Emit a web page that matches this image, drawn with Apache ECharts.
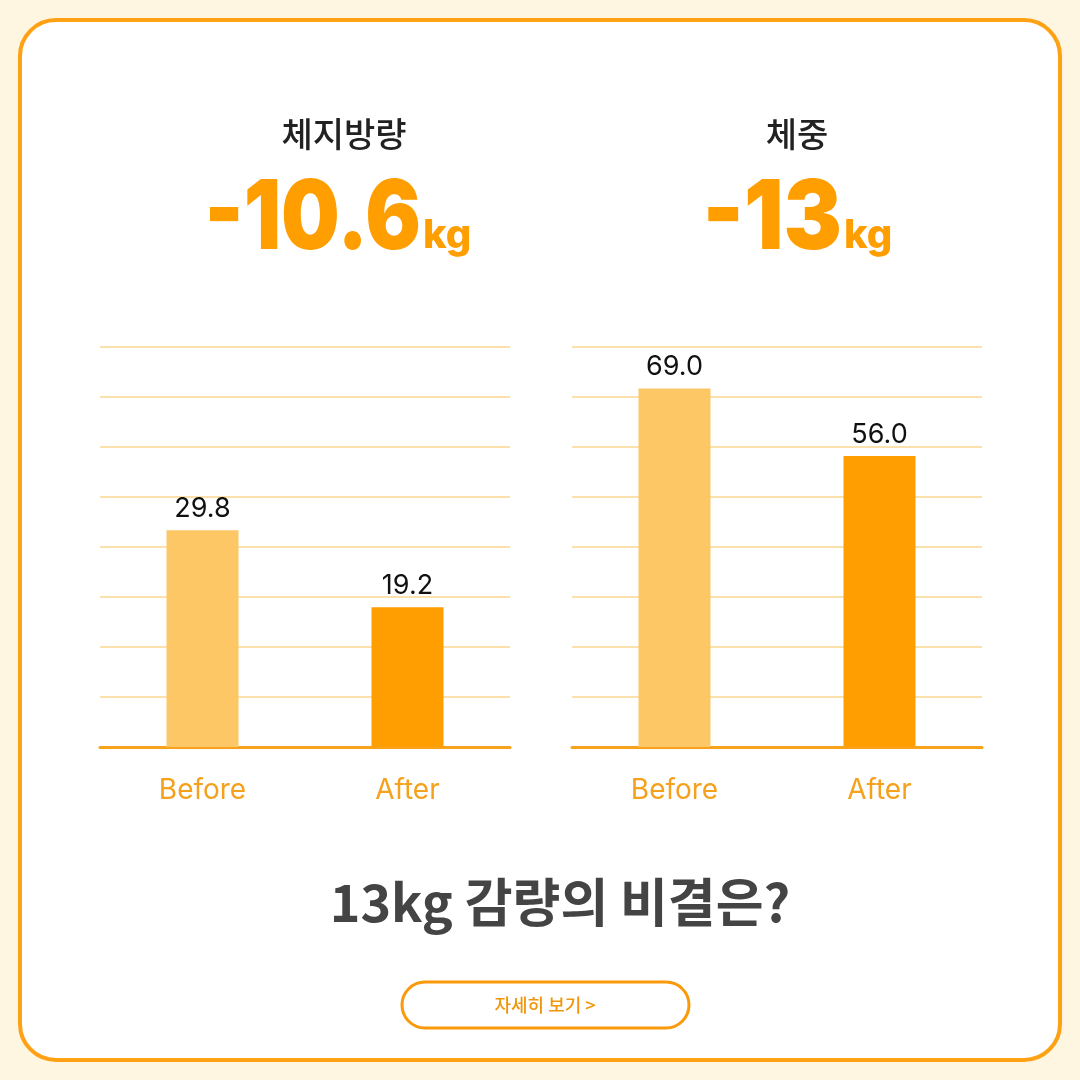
<!DOCTYPE html>
<html><head><meta charset="utf-8">
<script src="https://cdn.jsdelivr.net/npm/echarts@6/dist/echarts.min.js"></script>
<style>html,body{margin:0;padding:0;background:#FFF6E1;}#c{width:1080px;height:1080px;}</style>
</head><body><div id="c"></div>
<script>
const categories = ['Before', 'After'];
const fatValues = [29.8, 19.2];
const weightValues = [69.0, 56.0];
const fatTitle = '체지방량';
const fatDelta = '-10.6';
const weightTitle = '체중';
const weightDelta = '-13';
const unit = 'kg';
const headline = '13kg 감량의 비결은?';
const buttonText = '자세히 보기 >';

const ORANGE = '#FF9E00';
const LIGHT = '#FDC766';
const GRID = '#FDD791';
const FONT = 'Inter, "Noto Sans CJK KR", sans-serif';
const KFONT = '"Noto Sans CJK KR", sans-serif';

const chart = echarts.init(document.getElementById('c'), null, {renderer: 'canvas'});

function xAx(gi) {
  return {
    type: 'category', gridIndex: gi, data: categories,
    axisLine: {lineStyle: {color: '#F8A21C', width: 3}},
    axisTick: {show: false},
    axisLabel: {color: '#F5A11C', fontSize: 28, fontFamily: FONT, margin: 30}
  };
}
function yAx(gi, max, interval) {
  return {
    type: 'value', gridIndex: gi, min: 0, max: max, interval: interval,
    axisLine: {show: false}, axisTick: {show: false}, axisLabel: {show: false},
    splitLine: {lineStyle: {color: GRID, width: 1.5}}
  };
}
function ser(gi, vals) {
  return {
    type: 'bar', xAxisIndex: gi, yAxisIndex: gi, barWidth: 72,
    data: vals.map((v, i) => ({value: v, itemStyle: {color: i === 0 ? LIGHT : ORANGE}})),
    label: {show: true, position: 'top', distance: 8, color: '#111', fontSize: 27, fontFamily: FONT,
      formatter: p => p.value.toFixed(1)}
  };
}

chart.setOption({
  animation: false,
  grid: [
    {left: 100, width: 410, top: 347, height: 400},
    {left: 572, width: 410, top: 347, height: 400}
  ],
  xAxis: [xAx(0), xAx(1)],
  yAxis: [yAx(0, 55, 6.875), yAx(1, 77, 9.625)],
  series: [ser(0, fatValues), ser(1, weightValues)],
  graphic: [
    {type: 'rect', z: -10, shape: {x: 20, y: 20, width: 1040, height: 1040, r: 36},
      style: {fill: '#fff', stroke: '#FFA115', lineWidth: 4}},
    {type: 'text', x: 344, y: 134, style: {text: fatTitle, font: '500 34px ' + KFONT, fill: '#222', align: 'center', verticalAlign: 'middle'}},
    {type: 'text', x: 797, y: 134, style: {text: weightTitle, font: '500 34px ' + KFONT, fill: '#222', align: 'center', verticalAlign: 'middle'}},
    {type: 'text', x: 421, y: 268, scaleX: 0.86, style: {text: fatDelta, font: '900 96px ' + FONT, fill: ORANGE, align: 'right', verticalAlign: 'bottom'}},
    {type: 'text', x: 423, y: 256, style: {text: unit, font: '800 40px ' + FONT, fill: ORANGE, align: 'left', verticalAlign: 'bottom'}},
    {type: 'text', x: 842, y: 268, scaleX: 0.91, style: {text: weightDelta, font: '900 96px ' + FONT, fill: ORANGE, align: 'right', verticalAlign: 'bottom'}},
    {type: 'text', x: 844, y: 256, style: {text: unit, font: '800 40px ' + FONT, fill: ORANGE, align: 'left', verticalAlign: 'bottom'}},
    {type: 'text', x: 560, y: 902, style: {text: headline, font: '700 52px ' + KFONT, fill: '#444', align: 'center', verticalAlign: 'middle'}},
    {type: 'rect', shape: {x: 402, y: 982, width: 287, height: 46, r: 23},
      style: {fill: '#fff', stroke: '#FA9A0B', lineWidth: 3}},
    {type: 'text', x: 545, y: 1005, style: {text: buttonText, font: '500 18px ' + KFONT, fill: '#F0960C', align: 'center', verticalAlign: 'middle'}}
  ]
});
</script></body></html>
